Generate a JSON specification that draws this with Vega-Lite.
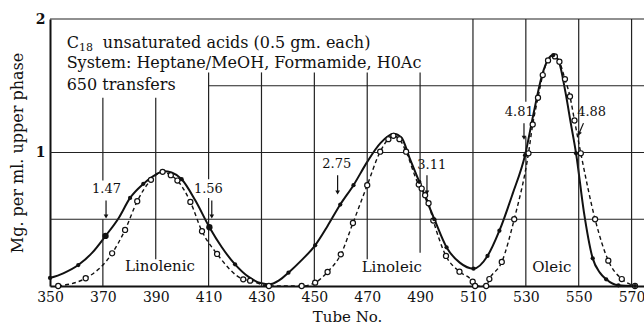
{
  "$schema": "https://vega.github.io/schema/vega-lite/v6.json",
  "width": 594,
  "height": 267,
  "autosize": "none",
  "padding": {"left": 50, "top": 19, "right": 0, "bottom": 43},
  "background": "white",
  "config": {
    "view": {"stroke": null},
    "font": "DejaVu Serif",
    "axisX": {
      "ticks": false, "tickSize": 0, "grid": false,
      "domainWidth": 2, "domainColor": "#111",
      "labelFont": "DejaVu Serif", "labelFontSize": 14, "labelColor": "#111",
      "labelPadding": 4, "labelFlush": false, "labelOverlap": false,
      "titleFont": "DejaVu Serif", "titleFontSize": 15,
      "titleFontWeight": "normal", "titleColor": "#111", "titlePadding": 5
    },
    "axisY": {
      "ticks": false, "tickSize": 0, "grid": false,
      "domainWidth": 2, "domainColor": "#111",
      "labelFont": "DejaVu Serif", "labelFontSize": 14, "labelFontWeight": "bold", "labelColor": "#111",
      "labelPadding": 5,
      "titleFont": "DejaVu Serif", "titleFontSize": 16,
      "titleFontWeight": "normal", "titleColor": "#111",
      "titleAngle": 270, "titleAlign": "center", "titleBaseline": "middle",
      "titleX": -33, "titleY": 133.5
    }
  },
  "datasets": {
    "solid": [
      {"tube": 350, "mg": 0.06, "m": "dot"},
      {"tube": 355, "mg": 0.095, "m": "none"},
      {"tube": 360.7, "mg": 0.157, "m": "dot"},
      {"tube": 366, "mg": 0.25, "m": "none"},
      {"tube": 371, "mg": 0.375, "m": "big"},
      {"tube": 376, "mg": 0.51, "m": "none"},
      {"tube": 380.3, "mg": 0.66, "m": "dot"},
      {"tube": 385.3, "mg": 0.765, "m": "dot"},
      {"tube": 390, "mg": 0.835, "m": "none"},
      {"tube": 393, "mg": 0.86, "m": "none"},
      {"tube": 396, "mg": 0.85, "m": "none"},
      {"tube": 399.8, "mg": 0.8, "m": "dot"},
      {"tube": 405, "mg": 0.64, "m": "none"},
      {"tube": 410.3, "mg": 0.44, "m": "big"},
      {"tube": 415, "mg": 0.29, "m": "none"},
      {"tube": 420, "mg": 0.162, "m": "dot"},
      {"tube": 425, "mg": 0.07, "m": "none"},
      {"tube": 430, "mg": 0.02, "m": "none"},
      {"tube": 433, "mg": 0.012, "m": "none"},
      {"tube": 436.5, "mg": 0.04, "m": "none"},
      {"tube": 440.2, "mg": 0.1, "m": "dot"},
      {"tube": 445, "mg": 0.19, "m": "none"},
      {"tube": 450.3, "mg": 0.305, "m": "dot"},
      {"tube": 455, "mg": 0.45, "m": "none"},
      {"tube": 459.8, "mg": 0.61, "m": "dot"},
      {"tube": 464.8, "mg": 0.755, "m": "dot"},
      {"tube": 470, "mg": 0.93, "m": "none"},
      {"tube": 475, "mg": 1.07, "m": "none"},
      {"tube": 480, "mg": 1.14, "m": "none"},
      {"tube": 483, "mg": 1.11, "m": "none"},
      {"tube": 486, "mg": 0.96, "m": "none"},
      {"tube": 489.7, "mg": 0.78, "m": "dot"},
      {"tube": 492.5, "mg": 0.64, "m": "none"},
      {"tube": 495.4, "mg": 0.5, "m": "dot"},
      {"tube": 500, "mg": 0.29, "m": "dot"},
      {"tube": 505, "mg": 0.175, "m": "none"},
      {"tube": 510.2, "mg": 0.13, "m": "dot"},
      {"tube": 515.5, "mg": 0.225, "m": "dot"},
      {"tube": 520, "mg": 0.414, "m": "dot"},
      {"tube": 525, "mg": 0.69, "m": "none"},
      {"tube": 529.7, "mg": 0.98, "m": "dot"},
      {"tube": 533, "mg": 1.3, "m": "none"},
      {"tube": 536, "mg": 1.57, "m": "none"},
      {"tube": 538.5, "mg": 1.7, "m": "none"},
      {"tube": 540.4, "mg": 1.73, "m": "dot"},
      {"tube": 542.5, "mg": 1.68, "m": "none"},
      {"tube": 545, "mg": 1.45, "m": "none"},
      {"tube": 547, "mg": 1.22, "m": "none"},
      {"tube": 549, "mg": 0.994, "m": "dot"},
      {"tube": 552, "mg": 0.55, "m": "none"},
      {"tube": 555.3, "mg": 0.207, "m": "dot"},
      {"tube": 558, "mg": 0.1, "m": "none"},
      {"tube": 560.4, "mg": 0.05, "m": "dot"},
      {"tube": 565, "mg": 0.005, "m": "dot"},
      {"tube": 571.3, "mg": 0, "m": "dot"}
    ],
    "dashed": [
      {"tube": 353.1, "mg": 0},
      {"tube": 363.5, "mg": 0.058},
      {"tube": 373.5, "mg": 0.245},
      {"tube": 378.4, "mg": 0.42},
      {"tube": 383, "mg": 0.635},
      {"tube": 388.2, "mg": 0.795},
      {"tube": 392.6, "mg": 0.855},
      {"tube": 395.7, "mg": 0.83},
      {"tube": 398.2, "mg": 0.79},
      {"tube": 403.1, "mg": 0.63},
      {"tube": 407.5, "mg": 0.41},
      {"tube": 413.2, "mg": 0.24},
      {"tube": 423.1, "mg": 0.05},
      {"tube": 425.7, "mg": 0.04},
      {"tube": 432.8, "mg": 0},
      {"tube": 445.2, "mg": 0},
      {"tube": 450.3, "mg": 0.025},
      {"tube": 455, "mg": 0.105},
      {"tube": 460, "mg": 0.237},
      {"tube": 464.6, "mg": 0.472},
      {"tube": 470, "mg": 0.755},
      {"tube": 474.9, "mg": 1.006},
      {"tube": 478, "mg": 1.1},
      {"tube": 479.9, "mg": 1.125},
      {"tube": 482.2, "mg": 1.1},
      {"tube": 484.7, "mg": 1.006},
      {"tube": 489.5, "mg": 0.76},
      {"tube": 490.6, "mg": 0.73},
      {"tube": 491.9, "mg": 0.68},
      {"tube": 493.2, "mg": 0.62},
      {"tube": 495, "mg": 0.49},
      {"tube": 499.8, "mg": 0.225},
      {"tube": 504.9, "mg": 0.107},
      {"tube": 509.9, "mg": 0.032},
      {"tube": 510.8, "mg": 0},
      {"tube": 515, "mg": 0},
      {"tube": 516.2, "mg": 0.052},
      {"tube": 520.9, "mg": 0.18},
      {"tube": 525.6, "mg": 0.5},
      {"tube": 531, "mg": 0.994},
      {"tube": 532.6, "mg": 1.21},
      {"tube": 534.6, "mg": 1.41},
      {"tube": 536.4, "mg": 1.58},
      {"tube": 538.4, "mg": 1.69},
      {"tube": 541, "mg": 1.72},
      {"tube": 542.7, "mg": 1.68},
      {"tube": 544.8, "mg": 1.55},
      {"tube": 546.7, "mg": 1.42},
      {"tube": 548.4, "mg": 1.24},
      {"tube": 550.8, "mg": 0.994},
      {"tube": 556.2, "mg": 0.5},
      {"tube": 561.2, "mg": 0.19},
      {"tube": 566.3, "mg": 0.052},
      {"tube": 571.3, "mg": 0}
    ],
    "vgrid": [
      {"x": 370, "y1": 0, "y2": 0.5},
      {"x": 370, "y1": 0.79, "y2": 1.41},
      {"x": 390, "y1": 0.2, "y2": 1.41},
      {"x": 410, "y1": 0, "y2": 0.66},
      {"x": 410, "y1": 0.8, "y2": 1.6},
      {"x": 430, "y1": 0, "y2": 1.6},
      {"x": 450, "y1": 0, "y2": 1.6},
      {"x": 470, "y1": 0.2, "y2": 1.6},
      {"x": 490, "y1": 0.25, "y2": 1.6},
      {"x": 510, "y1": 0.14, "y2": 2},
      {"x": 530, "y1": 0, "y2": 1.12},
      {"x": 530, "y1": 1.38, "y2": 2},
      {"x": 550, "y1": 0, "y2": 2},
      {"x": 570, "y1": 0, "y2": 2}
    ],
    "hgrid": [
      {"y": 2, "x1": 350, "x2": 574.7},
      {"y": 1.5, "x1": 410, "x2": 574.7},
      {"y": 1, "x1": 350, "x2": 574.7},
      {"y": 0.5, "x1": 350, "x2": 574.7}
    ],
    "notes": [
      {"x": 356.3, "y": 1.82, "text": "C", "kind": "block"},
      {"x": 361, "y": 1.785, "text": "18", "kind": "sub"},
      {"x": 370, "y": 1.82, "text": "unsaturated acids (0.5 gm. each)", "kind": "block"},
      {"x": 356.3, "y": 1.672, "text": "System: Heptane/MeOH, Formamide, H0Ac", "kind": "block"},
      {"x": 356.3, "y": 1.506, "text": "650 transfers", "kind": "block"},
      {"x": 371.4, "y": 0.73, "text": "1.47", "kind": "value"},
      {"x": 409.9, "y": 0.73, "text": "1.56", "kind": "value"},
      {"x": 458.5, "y": 0.914, "text": "2.75", "kind": "value"},
      {"x": 494.4, "y": 0.91, "text": "3.11", "kind": "value"},
      {"x": 527.5, "y": 1.306, "text": "4.81", "kind": "value"},
      {"x": 554.9, "y": 1.306, "text": "4.88", "kind": "value"},
      {"x": 391.6, "y": 0.15, "text": "Linolenic", "kind": "name"},
      {"x": 479.3, "y": 0.145, "text": "Linoleic", "kind": "name"},
      {"x": 539.8, "y": 0.145, "text": "Oleic", "kind": "name"}
    ],
    "arrows": [
      {"x1": 371.2, "y1": 0.64, "x2": 371.2, "y2": 0.52, "kind": "v"},
      {"x1": 411.2, "y1": 0.64, "x2": 411.2, "y2": 0.52, "kind": "v"},
      {"x1": 458.8, "y1": 0.83, "x2": 458.8, "y2": 0.7, "kind": "v"},
      {"x1": 492.6, "y1": 0.83, "x2": 492.6, "y2": 0.7, "kind": "v"},
      {"x1": 529.3, "y1": 1.22, "x2": 529.3, "y2": 1.11, "kind": "v"},
      {"x1": 551.8, "y1": 1.22, "x2": 550.1, "y2": 1.14, "kind": "d"}
    ]
  },
  "layer": [
    {
      "data": {"name": "solid"},
      "mark": {"type": "line", "interpolate": "monotone", "color": "#111", "strokeWidth": 2},
      "encoding": {
        "x": {
          "field": "tube", "type": "quantitative",
          "scale": {"domain": [350, 574.7], "nice": false, "zero": false},
          "axis": {"values": [350, 370, 390, 410, 430, 450, 470, 490, 510, 530, 550, 570]},
          "title": "Tube No."
        },
        "y": {
          "field": "mg", "type": "quantitative",
          "scale": {"domain": [0, 2], "nice": false},
          "axis": {"values": [1, 2], "format": "d"},
          "title": "Mg. per ml. upper phase"
        }
      }
    },
    {
      "data": {"name": "vgrid"},
      "mark": {"type": "rule", "color": "#222", "strokeWidth": 1.2},
      "encoding": {
        "x": {"field": "x", "type": "quantitative", "title": "Tube No."},
        "y": {"field": "y1", "type": "quantitative", "title": "Mg. per ml. upper phase"},
        "y2": {"field": "y2"}
      }
    },
    {
      "data": {"name": "hgrid"},
      "mark": {"type": "rule", "color": "#222", "strokeWidth": 1.2},
      "encoding": {
        "x": {"field": "x1", "type": "quantitative", "title": "Tube No."},
        "x2": {"field": "x2"},
        "y": {"field": "y", "type": "quantitative", "title": "Mg. per ml. upper phase"}
      }
    },
    {
      "data": {"name": "arrows"},
      "mark": {"type": "rule", "color": "#111", "strokeWidth": 1.2},
      "encoding": {
        "x": {"field": "x1", "type": "quantitative", "title": "Tube No."},
        "x2": {"field": "x2"},
        "y": {"field": "y1", "type": "quantitative", "title": "Mg. per ml. upper phase"},
        "y2": {"field": "y2"}
      }
    },
    {
      "data": {"name": "arrows"},
      "transform": [{"filter": "datum.kind == 'v'"}],
      "mark": {"type": "point", "shape": "triangle-down", "filled": true, "color": "#111", "size": 22, "opacity": 1},
      "encoding": {
        "x": {"field": "x2", "type": "quantitative", "title": "Tube No."},
        "y": {"field": "y2", "type": "quantitative", "title": "Mg. per ml. upper phase"}
      }
    },
    {
      "data": {"name": "arrows"},
      "transform": [{"filter": "datum.kind == 'd'"}],
      "mark": {"type": "point", "shape": "triangle-down", "filled": true, "color": "#111", "size": 22, "opacity": 1, "angle": 23},
      "encoding": {
        "x": {"field": "x2", "type": "quantitative", "title": "Tube No."},
        "y": {"field": "y2", "type": "quantitative", "title": "Mg. per ml. upper phase"}
      }
    },
    {
      "data": {"name": "notes"},
      "transform": [{"filter": "datum.kind == 'block'"}],
      "mark": {"type": "text", "align": "left", "baseline": "middle", "font": "DejaVu Serif", "fontSize": 16, "color": "#111"},
      "encoding": {
        "x": {"field": "x", "type": "quantitative", "title": "Tube No."},
        "y": {"field": "y", "type": "quantitative", "title": "Mg. per ml. upper phase"},
        "text": {"field": "text"}
      }
    },
    {
      "data": {"name": "notes"},
      "transform": [{"filter": "datum.kind == 'sub'"}],
      "mark": {"type": "text", "align": "left", "baseline": "middle", "font": "DejaVu Serif", "fontSize": 11, "color": "#111"},
      "encoding": {
        "x": {"field": "x", "type": "quantitative", "title": "Tube No."},
        "y": {"field": "y", "type": "quantitative", "title": "Mg. per ml. upper phase"},
        "text": {"field": "text"}
      }
    },
    {
      "data": {"name": "notes"},
      "transform": [{"filter": "datum.kind == 'value'"}],
      "mark": {"type": "text", "align": "center", "baseline": "middle", "font": "DejaVu Serif", "fontSize": 13, "color": "#111"},
      "encoding": {
        "x": {"field": "x", "type": "quantitative", "title": "Tube No."},
        "y": {"field": "y", "type": "quantitative", "title": "Mg. per ml. upper phase"},
        "text": {"field": "text"}
      }
    },
    {
      "data": {"name": "notes"},
      "transform": [{"filter": "datum.kind == 'name'"}],
      "mark": {"type": "text", "align": "center", "baseline": "middle", "font": "DejaVu Serif", "fontSize": 15, "color": "#111"},
      "encoding": {
        "x": {"field": "x", "type": "quantitative", "title": "Tube No."},
        "y": {"field": "y", "type": "quantitative", "title": "Mg. per ml. upper phase"},
        "text": {"field": "text"}
      }
    },
    {
      "data": {"name": "dashed"},
      "mark": {"type": "line", "interpolate": "monotone", "color": "#111", "strokeWidth": 1.4, "strokeDash": [4, 3]},
      "encoding": {
        "x": {"field": "tube", "type": "quantitative", "title": "Tube No."},
        "y": {"field": "mg", "type": "quantitative", "title": "Mg. per ml. upper phase"}
      }
    },
    {
      "data": {"name": "dashed"},
      "mark": {"type": "point", "shape": "circle", "filled": true, "fill": "white", "stroke": "#111", "strokeWidth": 1.2, "size": 26, "opacity": 1},
      "encoding": {
        "x": {"field": "tube", "type": "quantitative", "title": "Tube No."},
        "y": {"field": "mg", "type": "quantitative", "title": "Mg. per ml. upper phase"}
      }
    },
    {
      "data": {"name": "solid"},
      "transform": [{"filter": "datum.m == 'dot'"}],
      "mark": {"type": "point", "shape": "circle", "filled": true, "color": "#111", "size": 18, "opacity": 1},
      "encoding": {
        "x": {"field": "tube", "type": "quantitative", "title": "Tube No."},
        "y": {"field": "mg", "type": "quantitative", "title": "Mg. per ml. upper phase"}
      }
    },
    {
      "data": {"name": "solid"},
      "transform": [{"filter": "datum.m == 'big'"}],
      "mark": {"type": "point", "shape": "circle", "filled": true, "color": "#111", "size": 40, "opacity": 1},
      "encoding": {
        "x": {"field": "tube", "type": "quantitative", "title": "Tube No."},
        "y": {"field": "mg", "type": "quantitative", "title": "Mg. per ml. upper phase"}
      }
    }
  ]
}
